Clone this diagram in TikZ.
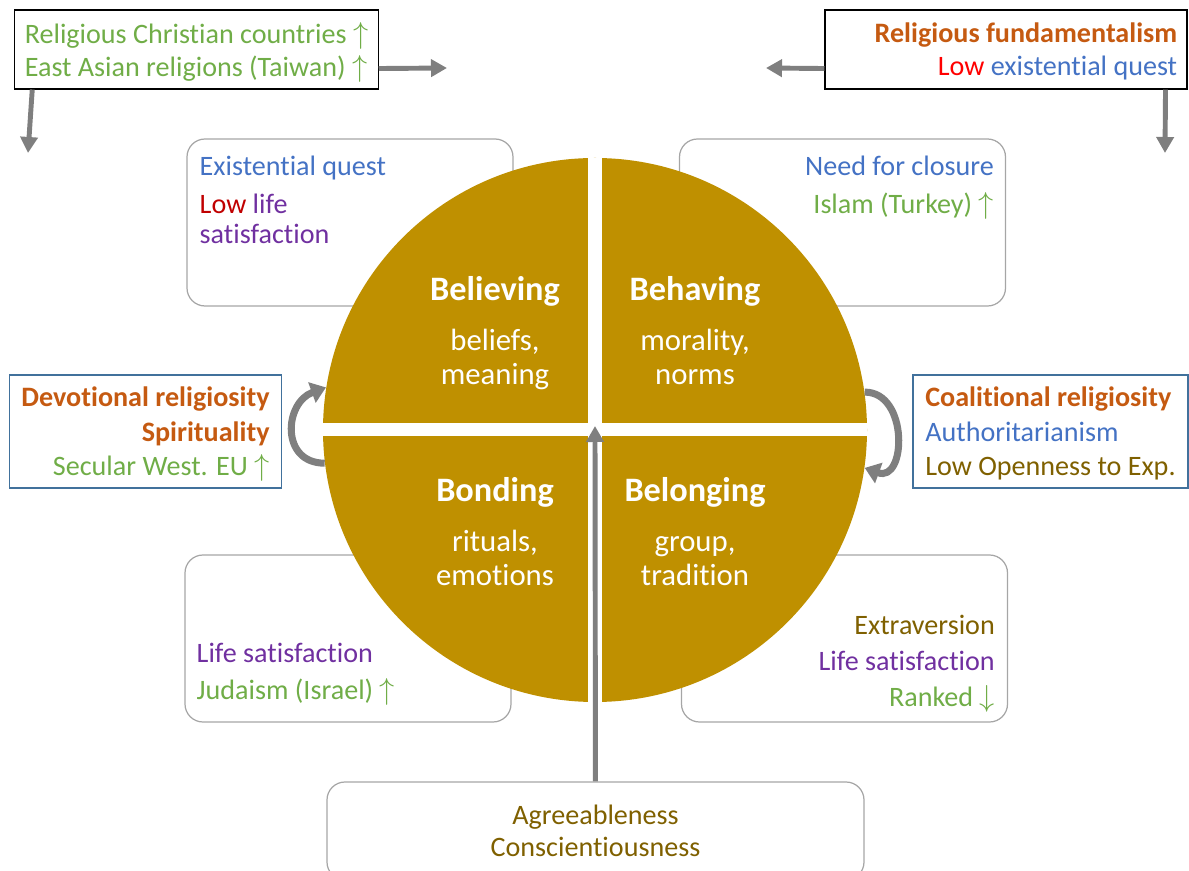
\documentclass[tikz,border=0pt]{standalone}
\usepackage{fontspec}
\setmainfont{Carlito}[Ligatures=NoCommon]
\usetikzlibrary{positioning}
\usetikzlibrary{arrows.meta}

\definecolor{gold}{HTML}{BF9000}
\definecolor{arrgray}{HTML}{7F7F7F}
\definecolor{boxgray}{HTML}{A6A6A6}
\definecolor{sideblue}{HTML}{41719C}
\definecolor{tgreen}{HTML}{70AD47}
\definecolor{torange}{HTML}{C55A11}
\definecolor{tblue}{HTML}{4472C4}
\definecolor{tred}{HTML}{FF0000}
\definecolor{tdarkred}{HTML}{C00000}
\definecolor{tpurple}{HTML}{7030A0}
\definecolor{tolive}{HTML}{7F6000}

\newcommand{\quadtitle}[1]{{\fontsize{19.5}{22}\selectfont\bfseries #1}}

\begin{document}
\begin{tikzpicture}[
	txt/.style={inner sep=0pt, font=\fontsize{16}{19}\selectfont},
	sharpbox/.style={draw, line width=0.6pt, font=\fontsize{16}{19}\selectfont, minimum height=1.58cm, inner xsep=0.2cm, text depth=0pt},
	sidebox/.style={draw=sideblue, line width=0.6pt, font=\fontsize{16}{19.6}\selectfont, minimum width=5.45cm, minimum height=2.26cm, text depth=0pt},
	roundbox/.style={draw=boxgray, line width=0.7pt, rounded corners=0.36cm, minimum width=6.52cm, minimum height=3.34cm},
	disc/.style={circle, fill=gold, minimum size=10.88cm, inner sep=0pt,
		path picture={
			\fill[white] ([xshift=-0.14cm]path picture bounding box.north) rectangle ([xshift=0.14cm]path picture bounding box.south);
			\fill[white] ([yshift=-0.13cm]path picture bounding box.west) rectangle ([yshift=0.13cm]path picture bounding box.east);
		}},
	quad/.style={anchor=north, inner sep=0pt, text=white, align=center, font=\fontsize{17.5}{19.3}\selectfont},
	edge/.style={draw=arrgray, line width=2.8pt, -{Triangle[length=0.32cm, width=0.34cm]}},
	loop/.style={draw=arrgray, line width=4pt, -{Triangle[length=0.3cm, width=0.42cm]}}
	]
	\useasboundingbox (0,0) rectangle (23.78,-17.42);
	
	% Boxes round the disc
	\node[roundbox] (ulbox) at (7.0,-4.45) {};
	\node[roundbox] (urbox) at (16.85,-4.45) {};
	\node[roundbox] (llbox) at (6.96,-12.77) {};
	\node[roundbox] (lrbox) at (16.89,-12.77) {};
	\node[roundbox, minimum width=10.74cm, minimum height=1.96cm, align=center, text=tolive,
		font=\fontsize{16}{18}\selectfont] (agree) at (11.91,-16.62) {Agreeableness\\Conscientiousness};
	
	% Box texts
	\node[txt, align=left, below right=0.34cm and 0.26cm of ulbox.north west, font=\fontsize{16}{17}\selectfont] (ultext)
		{\textcolor{tblue}{Existential quest}\\[5pt]\textcolor{tdarkred}{Low} \textcolor{tpurple}{life}\\\textcolor{tpurple}{satisfaction}};
	\node[txt, align=right, below left=0.34cm and 0.24cm of urbox.north east] (urtext)
		{\textcolor{tblue}{Need for closure}\\[3pt]\textcolor{tgreen}{Islam (Turkey) $\uparrow$}};
	\node[txt, align=left, above right=0.34cm and 0.24cm of llbox.south west] (lltext)
		{\textcolor{tpurple}{Life satisfaction}\\[2pt]\textcolor{tgreen}{Judaism (Israel) $\uparrow$}};
	\node[txt, align=right, above left=0.2cm and 0.26cm of lrbox.south east] (lrtext)
		{\textcolor{tolive}{Extraversion}\\[1.5pt]\textcolor{tpurple}{Life satisfaction}\\[1.5pt]\textcolor{tgreen}{Ranked $\downarrow$}};
	
	% Disc
	\node[disc] (disc) at (11.9,-8.6) {};
	\coordinate (ctr) at (11.9,-8.52);
	\node[quad] (believing) at (9.9,-5.53) {\quadtitle{Believing}\\[9pt]beliefs,\\meaning};
	\node[quad] (behaving) at (13.9,-5.53) {\quadtitle{Behaving}\\[9pt]morality,\\norms};
	\node[quad] (bonding) at (9.9,-9.55) {\quadtitle{Bonding}\\[9pt]rituals,\\emotions};
	\node[quad] (belonging) at (13.9,-9.55) {\quadtitle{Belonging}\\[9pt]group,\\tradition};
	
	% Top boxes
	\node[sharpbox, align=left, text=tgreen] (tlbox) at (3.93,-0.99)
		{Religious Christian countries $\uparrow$\\East Asian religions (Taiwan) $\uparrow$};
	\node[sharpbox, minimum width=7.24cm] (trbox) at (20.12,-0.99) {};
	\node[txt, align=right, left=0.2cm of trbox.east, yshift=-0.04cm] (trtext)
		{\textcolor{torange}{\bfseries Religious fundamentalism}\\\textcolor{tred}{Low} \textcolor{tblue}{existential quest}};
	
	% Side boxes
	\node[sidebox, align=right] (lbox) at (2.91,-8.63)
		{\textcolor{torange}{\bfseries Devotional religiosity}\\\textcolor{torange}{\bfseries Spirituality}\\\textcolor{tgreen}{Secular West. EU $\uparrow$}};
	\node[sidebox, align=left, minimum width=5.5cm] (rbox) at (21.01,-8.63)
		{\textcolor{torange}{\bfseries Coalitional religiosity}\\\textcolor{tblue}{Authoritarianism}\\\textcolor{tolive}{Low Openness to Exp.}};
	
	% Arrows
	\coordinate (tlright) at (8.94,-1.36);
	\coordinate (tldown) at (0.56,-3.06);
	\coordinate (trleft) at (15.32,-1.36);
	\coordinate (trdown) at (23.3,-3.06);
	\draw[edge] ([yshift=0.42cm]tlbox.south east) -- (tlright);
	\draw[edge] ([xshift=0.36cm]tlbox.south west) -- (tldown);
	\draw[edge] ([yshift=0.42cm]trbox.south west) -- (trleft);
	\draw[edge] ([xshift=-0.44cm]trbox.south east) -- (trdown);
	\draw[edge] (agree) -- (ctr);
	\draw[loop] (disc.187) to[out=180, in=200, looseness=1.5] (disc.171);
	\draw[loop] (disc.8) to[out=0, in=-20, looseness=1.5] (disc.-8);
\end{tikzpicture}
\end{document}
